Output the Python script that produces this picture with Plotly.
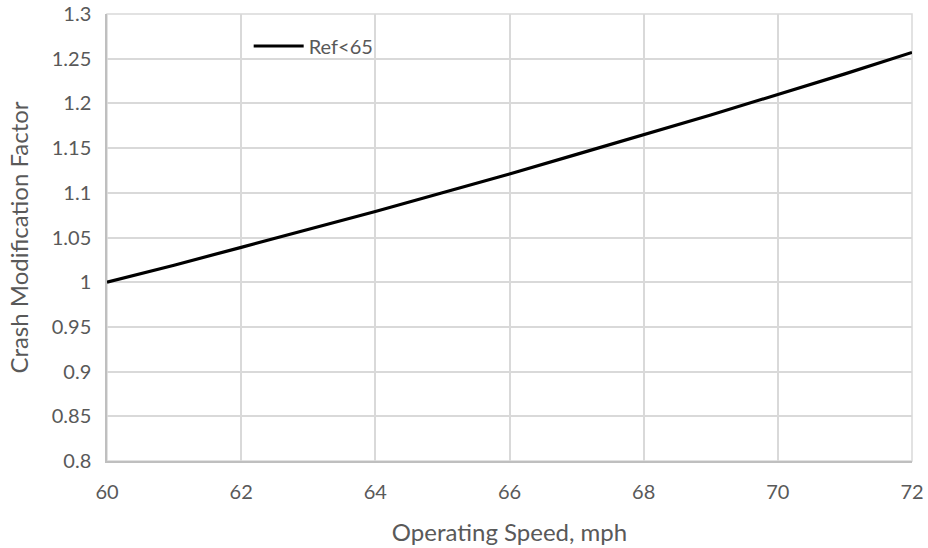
import plotly.graph_objects as go

# Crash modification factor vs. operating speed (reference speed < 65 mph)
speed_mph = [60, 61, 62, 63, 64, 65, 66, 67, 68, 69, 70, 71, 72]
cmf_ref_lt65 = [1.000, 1.019, 1.039, 1.059, 1.079, 1.100, 1.121, 1.143, 1.165, 1.187, 1.210, 1.233, 1.257]

x_ticks = [60, 62, 64, 66, 68, 70, 72]
y_ticks = [0.8, 0.85, 0.9, 0.95, 1.0, 1.05, 1.1, 1.15, 1.2, 1.25, 1.3]
y_tick_text = ["0.8", "0.85", "0.9", "0.95", "1", "1.05", "1.1", "1.15", "1.2", "1.25", "1.3"]

FONT = "Lato, 'Open Sans', sans-serif"
GRID = "#d9d9d9"
TEXT = "#595959"

fig = go.Figure()
fig.add_trace(go.Scatter(
    x=speed_mph, y=cmf_ref_lt65, mode="lines", name="Ref<65",
    line=dict(color="#000000", width=3.2),
))

fig.update_layout(
    width=928, height=548,
    margin=dict(l=107, r=16, t=14, b=87),
    paper_bgcolor="white", plot_bgcolor="white",
    font=dict(family=FONT, size=20, color=TEXT),
    showlegend=True,
    legend=dict(x=0.176, y=0.972, xanchor="left", yanchor="top",
                bgcolor="rgba(0,0,0,0)", font=dict(size=20, color=TEXT),
                itemwidth=50, tracegroupgap=0),
    xaxis=dict(
        range=[60, 72], tickvals=x_ticks, ticktext=[str(t) for t in x_ticks],
        automargin=False,
        showgrid=True, gridcolor=GRID, gridwidth=1.5,
        showline=True, linecolor="#bfbfbf", linewidth=1.5, mirror=False,
        zeroline=False, ticks="", ticklabelstandoff=12,
        tickfont=dict(size=20, color=TEXT),
        title=dict(text="Operating Speed, mph", standoff=22,
                   font=dict(size=24, color=TEXT)),
    ),
    yaxis=dict(
        range=[0.8, 1.3], tickvals=y_ticks, ticktext=y_tick_text,
        automargin=False,
        showgrid=True, gridcolor=GRID, gridwidth=1.5,
        showline=True, linecolor="#bfbfbf", linewidth=1.5,
        zeroline=False, ticks="", ticklabelstandoff=10,
        tickfont=dict(size=20, color=TEXT),
        title=dict(text="Crash Modification Factor", standoff=16,
                   font=dict(size=24, color=TEXT)),
    ),
)

# Frame on top and right edges in grid colour
fig.add_shape(type="rect", xref="paper", yref="paper", x0=0, y0=0, x1=1, y1=1,
              line=dict(color=GRID, width=1.5), layer="below")

fig.write_html("out.html")
